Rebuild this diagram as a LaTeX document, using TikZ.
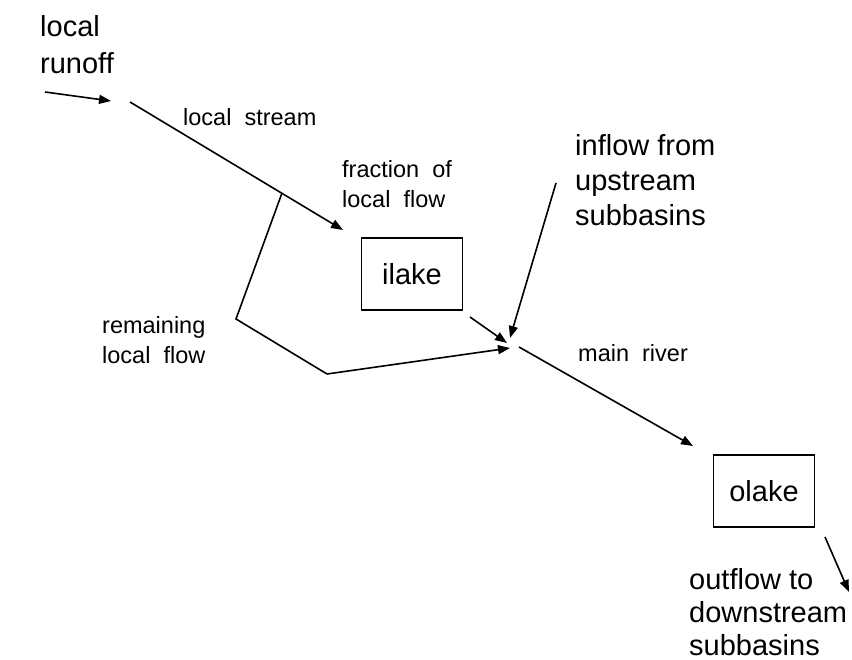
\documentclass[tikz,border=0pt]{standalone}
\usepackage{fontspec}
\setmainfont{Liberation Sans}
\usetikzlibrary{arrows.meta,positioning}
\tikzset{
  flow/.style={line width=1.6pt,-{Triangle[length=12pt,width=9pt]}},
  pipe/.style={line width=1.6pt},
  lake/.style={draw,line width=1.3pt,minimum width=101pt,minimum height=72pt,font=\fontsize{29}{34}\selectfont},
  lbl/.style={anchor=north west,inner sep=0pt,align=left,font=\fontsize{23.5}{30.5}\selectfont},
  biglbl/.style={lbl,font=\fontsize{29}{34}\selectfont}
}
\begin{document}
\begin{tikzpicture}[x=1pt,y=-1pt]
      \useasboundingbox (0,0) rectangle (852,660);
      \node[lake] (ilake) at (412,274) {ilake};
      \node[lake] (olake) at (764,491) {olake};
      \node[biglbl,font=\fontsize{29}{37}\selectfont] (runoff) at (40,15) {local\\runoff};
      \node[lbl] (lstream) at (183,108) {local\ \ stream};
      \node[lbl] (fraction) at (342,160) {fraction\ \ of\\local\ \ flow};
      \node[biglbl,font=\fontsize{29}{35}\selectfont] (inflow) at (575,134) {inflow from\\upstream\\subbasins};
      \node[lbl] (remaining) at (102,316) {remaining\\local\ \ flow};
      \node[lbl] (mainriver) at (578,344) {main\ \ river};
      \node[biglbl,font=\fontsize{29}{33}\selectfont] (outflow) at (689,568) {outflow to\\downstream\\subbasins};
      \coordinate (r0) at (45,92);
      \coordinate (r1) at (111,101);
      \coordinate (s0) at (130,102);
      \coordinate (s1) at (343,230);
      \coordinate (br) at (282,193);
      \coordinate (c1) at (236,319);
      \coordinate (c2) at (327,374);
      \coordinate (jl) at (510,348);
      \coordinate (i0) at (470,317);
      \coordinate (ji) at (507,343);
      \coordinate (u0) at (556,183);
      \coordinate (ju) at (510,338);
      \coordinate (m0) at (519,347);
      \coordinate (m1) at (693,446);
      \coordinate (o0) at (825,537);
      \coordinate (o1) at (849,592);
      \draw[flow] (r0) -- (r1);
      \draw[flow] (s0) -- (s1);
      \draw[pipe] (br) -- (c1) -- (c2);
      \draw[flow] (c2) -- (jl);
      \draw[flow] (i0) -- (ji);
      \draw[flow] (u0) -- (ju);
      \draw[flow] (m0) -- (m1);
      \draw[flow] (o0) -- (o1);
\end{tikzpicture}
\end{document}
